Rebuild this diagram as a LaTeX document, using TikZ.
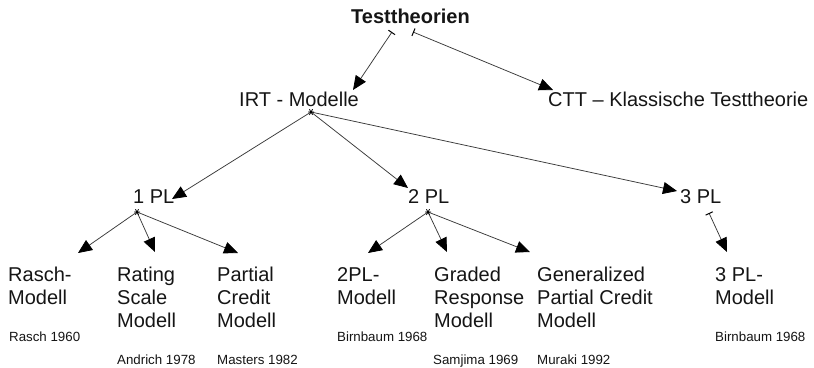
\documentclass[tikz,border=0pt]{standalone}
\usepackage{fontspec}
\setmainfont{Liberation Sans}
\usetikzlibrary{arrows.meta}
\definecolor{textc}{HTML}{151515}
\definecolor{linec}{HTML}{3A3A3A}
\begin{document}
\begin{tikzpicture}[x=1pt,y=-1pt,
  txt/.style={anchor=base west, inner sep=0pt, text=textc, font=\fontsize{20}{23}\selectfont},
  cite/.style={anchor=base west, inner sep=0pt, text=textc, font=\fontsize{13.3}{15}\selectfont},
  tip/.tip={Triangle[length=14pt,width=12pt,color=black]},
  conn/.style={draw=linec, line width=0.75pt, -tip},
  barconn/.style={draw=linec, line width=0.75pt, {Bar[width=8pt,line width=1pt,color=black]}-tip},
  jmark/.pic={\draw[black,line width=0.8pt] (-3,0)--(3,0) (-1.6,-2.8)--(1.6,2.8) (-1.6,2.8)--(1.6,-2.8);}
]
\useasboundingbox[fill=white] (0,0) rectangle (814,367);

% top level
\node[txt, font=\fontsize{20}{23}\selectfont\bfseries] (tt) at (351,23) {Testtheorien};
\node[txt] (irt) at (239,106) {IRT - Modelle};
\node[txt] (ctt) at (548,106) {CTT – Klassische Testtheorie};

% second level
\node[txt] (pl1) at (133,203) {1 PL};
\node[txt] (pl2) at (408,203) {2 PL};
\node[txt] (pl3) at (680,203) {3 PL};

% leaves
\newcommand{\leaf}[1]{\begin{tabular}[t]{@{}l@{}}#1\end{tabular}}
\node[txt] (rasch)   at (8,281)   {\leaf{Rasch-\\Modell}};
\node[txt] (rating)  at (117,281) {\leaf{Rating\\Scale\\Modell}};
\node[txt] (partial) at (217,281) {\leaf{Partial\\Credit\\Modell}};
\node[txt] (twopl)   at (337,281) {\leaf{2PL-\\Modell}};
\node[txt] (graded)  at (434,281) {\leaf{Graded\\Response\\Modell}};
\node[txt] (gpc)     at (537,281) {\leaf{Generalized\\Partial Credit\\Modell}};
\node[txt] (threepl) at (715,281) {\leaf{3 PL-\\Modell}};

% citations
\node[cite] (c1) at (9,341)   {Rasch 1960};
\node[cite] (c2) at (117,364) {Andrich 1978};
\node[cite] (c3) at (217,364) {Masters 1982};
\node[cite] (c4) at (337,341) {Birnbaum 1968};
\node[cite] (c5) at (433,364) {Samjima 1969};
\node[cite] (c6) at (537,364) {Muraki 1992};
\node[cite] (c7) at (715,341) {Birnbaum 1968};

% connector points
\coordinate (tta) at (392,32);
\coordinate (ttb) at (413,32);
\coordinate (jirt) at (311,112);
\coordinate (j1) at (137,212);
\coordinate (j2) at (428,212);
\coordinate (j3) at (709,213);

\coordinate (tirt) at (353,90);
\coordinate (tctt) at (553,90);
\coordinate (tpl1) at (172,199);
\coordinate (tpl2) at (408,188);
\coordinate (tpl3) at (677,191);
\coordinate (trasch) at (78,253);
\coordinate (trating) at (155,252);
\coordinate (tpartial) at (238,253);
\coordinate (ttwopl) at (368,253);
\coordinate (tgraded) at (447,252);
\coordinate (tgpc) at (530,252);
\coordinate (tthreepl) at (727,252);

% connectors
\draw[barconn] (tta) -- (tirt);
\draw[barconn] (ttb) -- (tctt);

\draw[conn] (jirt) -- (tpl1);
\draw[conn] (jirt) -- (tpl2);
\draw[conn] (jirt) -- (tpl3);
\pic at (jirt) {jmark};

\draw[conn] (j1) -- (trasch);
\draw[conn] (j1) -- (trating);
\draw[conn] (j1) -- (tpartial);
\pic at (j1) {jmark};

\draw[conn] (j2) -- (ttwopl);
\draw[conn] (j2) -- (tgraded);
\draw[conn] (j2) -- (tgpc);
\pic at (j2) {jmark};

\draw[barconn] (j3) -- (tthreepl);
\end{tikzpicture}
\end{document}
